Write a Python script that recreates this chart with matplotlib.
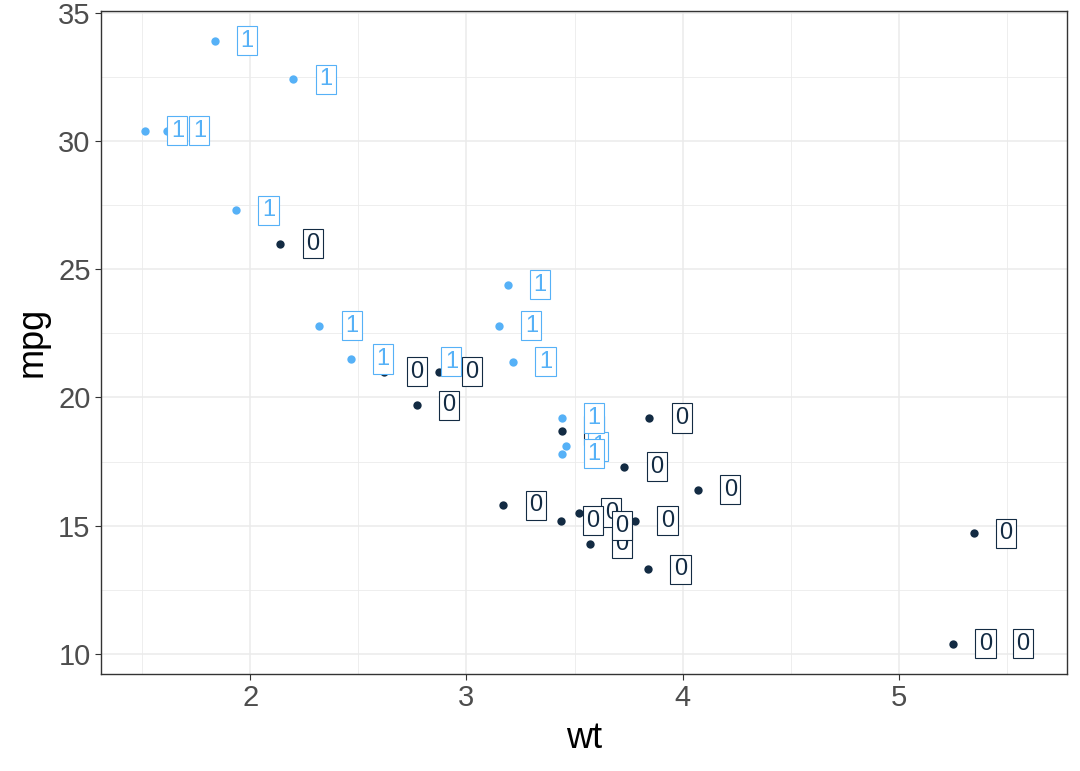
import matplotlib.pyplot as plt

plt.rcParams['font.family'] = ['Liberation Sans', 'DejaVu Sans']

# mtcars : poids, consommation, moteur (vs)
wt = [2.620, 2.875, 2.320, 3.215, 3.440, 3.460, 3.570, 3.190, 3.150, 3.440,
      3.440, 4.070, 3.730, 3.780, 5.250, 5.424, 5.345, 2.200, 1.615, 1.835,
      2.465, 3.520, 3.435, 3.840, 3.845, 1.935, 2.140, 1.513, 3.170, 2.770,
      3.570, 2.780]
mpg = [21.0, 21.0, 22.8, 21.4, 18.7, 18.1, 14.3, 24.4, 22.8, 19.2,
       17.8, 16.4, 17.3, 15.2, 10.4, 10.4, 14.7, 32.4, 30.4, 33.9,
       21.5, 15.5, 15.2, 13.3, 19.2, 27.3, 26.0, 30.4, 15.8, 19.7,
       15.0, 21.4]
vs = [0, 0, 1, 1, 0, 1, 0, 1, 1, 1,
      1, 0, 0, 0, 0, 0, 0, 1, 1, 1,
      1, 0, 0, 0, 0, 1, 0, 1, 0, 0,
      0, 1]

couleurs = {0: '#132B43', 1: '#56B1F7'}
decalage = 0.15

fig = plt.figure(figsize=(10.8, 7.71), dpi=100)
ax = fig.add_axes([0.0935, 0.126, 0.8945, 0.86])

for x, y, v in zip(wt, mpg, vs):
    ax.scatter(x, y, s=36, color=couleurs[v], zorder=3, linewidths=0)

for x, y, v in zip(wt, mpg, vs):
    ax.text(x + decalage, y, str(v), color=couleurs[v], fontsize=17,
            ha='center', va='center', zorder=4,
            bbox=dict(boxstyle='square,pad=0.15', fc='white', ec=couleurs[v], lw=0.8))

ax.set_xlim(1.31, 5.777)
ax.set_ylim(9.225, 35.075)
ax.set_xticks([2, 3, 4, 5])
ax.set_yticks([10, 15, 20, 25, 30, 35])
ax.set_xticks([1.5, 2.5, 3.5, 4.5, 5.5], minor=True)
ax.set_yticks([12.5, 17.5, 22.5, 27.5, 32.5], minor=True)
ax.grid(True, which='major', color='#EBEBEB', lw=1.1)
ax.grid(True, which='minor', color='#EBEBEB', lw=0.6)
ax.set_axisbelow(True)
ax.tick_params(which='minor', length=0)
ax.tick_params(which='major', length=4, color='#333333', labelsize=21,
               labelcolor='#4D4D4D')
for s in ax.spines.values():
    s.set_color('#333333')
    s.set_linewidth(1)

ax.set_xlabel('wt', fontsize=26, labelpad=6)
ax.set_ylabel('mpg', fontsize=26, labelpad=6)

fig.savefig('out.png')
